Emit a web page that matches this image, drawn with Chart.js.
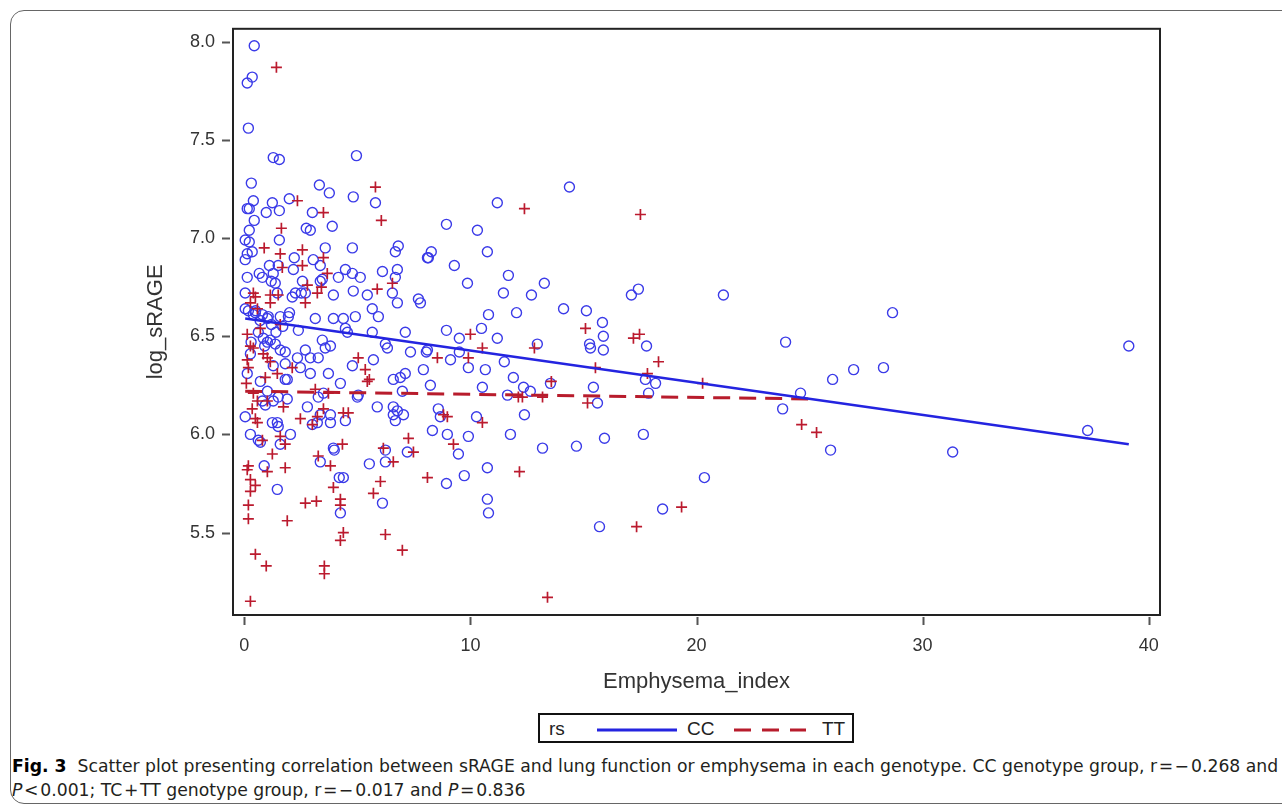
<!DOCTYPE html>
<html>
<head>
<meta charset="utf-8">
<script src="https://cdn.jsdelivr.net/npm/chart.js@4/dist/chart.umd.min.js"></script>
<style>
  html, body { margin: 0; padding: 0; background: #fff; overflow: hidden; }
  #page { position: relative; width: 1282px; height: 808px; overflow: hidden; }
  /* rounded frame of the figure, cut off at the right edge */
  #frame { position: absolute; left: 10px; top: 10px; width: 1300px; height: 794px;
           border: 1px solid #666; border-radius: 14px; box-sizing: border-box; }
  #chartBox { position: absolute; left: 0; top: 0; width: 1282px; height: 700px; }
  #legend { position: absolute; left: 538px; top: 713px; width: 316px; height: 30px;
            border: 2px solid #111; box-sizing: border-box;
            font-family: "Liberation Sans", Arial, sans-serif; font-size: 19px; color: #222; }
  #legend span, #legend svg { position: absolute; }
  #caption { position: absolute; left: 12px; top: 754px; color: #231f20;
             font-family: "DejaVu Sans Condensed", "Liberation Sans Narrow", "Noto Sans", sans-serif;
             font-size: 17px; line-height: 24px; white-space: nowrap; }
  .cap-line { transform-origin: 0 50%; }
  .cap-line b { color: #000; }
</style>
</head>
<body>
<div id="page">
  <div id="frame"></div>
  <div id="chartBox"><canvas id="scatterChart" width="1282" height="700"></canvas></div>

  <div id="legend">
    <span style="left:9px; top:3px;">rs</span>
    <svg style="left:56px; top:12px;" width="82" height="6"><line x1="1" y1="3" x2="81" y2="3" stroke="#2424e0" stroke-width="3"/></svg>
    <span style="left:147px; top:3px;">CC</span>
    <svg style="left:193px; top:12px;" width="74" height="6"><line x1="1" y1="3" x2="73" y2="3" stroke="#b81c2c" stroke-width="3" stroke-dasharray="17,11"/></svg>
    <span style="left:282px; top:3px;">TT</span>
  </div>

  <div id="caption">
    <div class="cap-line" id="cap1"><b>Fig. 3</b>&nbsp; Scatter plot presenting correlation between sRAGE and lung function or emphysema in each genotype. CC genotype group, r&#8202;=&#8202;&minus;&#8202;0.268 and</div>
    <div class="cap-line" id="cap2"><i>P</i>&#8202;&lt;&#8202;0.001; TC&#8202;+&#8202;TT genotype group, r&#8202;=&#8202;&minus;&#8202;0.017 and <i>P</i>&#8202;=&#8202;0.836</div>
  </div>
</div>

<script>
// 軸的刻度
const xTicks = [0, 10, 20, 30, 40];
const yTicks = [5.5, 6.0, 6.5, 7.0, 7.5, 8.0];

// CC 組: [Emphysema_index, log_sRAGE]
const ccPairs = [
  [0.44,7.98],[0.35,7.82],[0.13,7.79],[0.18,7.56],[1.28,7.41],[1.55,7.40],[4.96,7.42],[0.31,7.28],
  [3.32,7.27],[3.76,7.23],[4.82,7.21],[5.80,7.18],[1.99,7.20],[0.40,7.19],[0.13,7.15],[0.22,7.15],
  [1.24,7.18],[0.97,7.13],[1.55,7.14],[3.01,7.13],[0.44,7.09],[2.74,7.05],[2.92,7.04],[3.89,7.06],
  [0.22,7.04],[1.55,6.99],[0.04,6.99],[0.22,6.98],[3.58,6.95],[4.78,6.95],[6.68,6.93],[6.81,6.96],
  [8.10,6.90],[0.35,6.93],[0.13,6.92],[0.04,6.89],[2.21,6.90],[3.05,6.89],[3.36,6.86],[1.11,6.86],
  [1.50,6.86],[0.66,6.82],[1.28,6.82],[0.13,6.80],[0.80,6.80],[1.19,6.78],[2.17,6.84],[2.57,6.78],
  [3.36,6.78],[4.16,6.80],[4.47,6.84],[4.78,6.82],[5.13,6.80],[6.11,6.83],[6.77,6.84],[6.68,6.80],
  [0.04,6.72],[1.46,6.72],[2.26,6.72],[2.52,6.72],[3.45,6.79],[3.94,6.71],[4.82,6.73],[5.44,6.71],
  [6.55,6.72],[7.70,6.69],[14.38,7.26],[11.19,7.18],[8.94,7.07],[10.31,7.04],[8.27,6.93],[8.14,6.90],
  [10.75,6.93],[9.29,6.86],[11.68,6.81],[9.87,6.77],[13.27,6.77],[11.46,6.72],[12.70,6.71],[7.79,6.67],
  [10.80,6.61],[12.04,6.62],[14.12,6.64],[15.13,6.63],[15.84,6.57],[17.12,6.71],[17.43,6.74],[8.94,6.53],
  [9.51,6.49],[10.49,6.54],[11.19,6.49],[15.88,6.50],[12.96,6.46],[15.27,6.46],[15.31,6.44],[15.88,6.43],
  [17.79,6.45],[8.05,6.42],[9.12,6.38],[9.51,6.42],[9.91,6.34],[10.66,6.33],[11.50,6.37],[7.92,6.33],
  [8.23,6.25],[10.53,6.24],[11.90,6.29],[12.35,6.24],[12.65,6.22],[13.54,6.26],[15.44,6.24],[15.62,6.16],
  [17.74,6.28],[18.19,6.26],[17.88,6.21],[8.58,6.13],[8.67,6.09],[10.27,6.09],[12.39,6.10],[8.32,6.02],
  [8.98,6.00],[9.91,5.99],[11.77,6.00],[15.93,5.98],[17.65,6.00],[13.19,5.93],[14.69,5.94],[9.47,5.90],
  [10.75,5.83],[9.73,5.79],[8.94,5.75],[10.75,5.67],[10.80,5.60],[15.71,5.53],[18.50,5.62],[21.19,6.71],
  [28.67,6.62],[23.94,6.47],[24.60,6.21],[23.81,6.13],[26.02,6.28],[26.95,6.33],[28.27,6.34],[25.93,5.92],
  [20.35,5.78],[39.12,6.45],[37.30,6.02],[31.33,5.91],[11.64,6.20],[0.04,6.64],[0.40,6.61],[0.80,6.61],
  [1.06,6.60],[1.59,6.60],[1.95,6.60],[3.14,6.59],[3.94,6.59],[4.38,6.59],[4.91,6.60],[5.66,6.64],
  [5.93,6.60],[4.47,6.54],[4.56,6.52],[2.39,6.53],[3.45,6.48],[3.81,6.45],[3.58,6.44],[5.66,6.52],
  [7.12,6.52],[6.24,6.46],[6.33,6.44],[7.35,6.42],[8.10,6.43],[0.84,6.49],[1.15,6.48],[1.37,6.46],
  [1.59,6.43],[1.81,6.42],[2.70,6.43],[2.35,6.39],[2.92,6.39],[3.27,6.39],[2.48,6.34],[2.92,6.31],
  [3.72,6.31],[4.78,6.35],[5.71,6.38],[1.90,6.28],[0.71,6.27],[0.13,6.31],[1.28,6.35],[4.25,6.26],
  [5.00,6.19],[6.59,6.28],[6.90,6.29],[7.12,6.31],[6.99,6.22],[5.88,6.14],[6.59,6.14],[6.77,6.12],
  [6.59,6.10],[7.04,6.10],[6.68,6.07],[3.27,6.19],[2.79,6.14],[3.81,6.10],[3.36,6.10],[3.23,6.06],
  [3.81,6.06],[3.01,6.05],[4.47,6.07],[2.04,6.00],[1.50,6.04],[1.24,6.06],[0.93,6.15],[1.50,6.19],
  [1.90,6.18],[1.28,6.17],[0.80,6.17],[0.04,6.09],[0.27,6.00],[0.62,5.97],[1.59,5.95],[3.94,5.93],
  [6.24,5.92],[7.21,5.91],[1.02,6.22],[3.50,6.21],[5.04,6.20],[3.98,5.92],[3.36,5.86],[4.20,5.78],
  [4.38,5.78],[5.53,5.85],[6.24,5.86],[1.46,5.72],[0.88,5.84],[4.25,5.60],[6.11,5.65],[1.37,6.77],
  [0.18,6.63],[0.49,6.62],[1.02,6.59],[2.12,6.70],[2.70,6.72],[0.62,6.52],[1.02,6.47],[0.27,6.41],
  [1.81,6.36],[1.81,6.28],[0.71,5.96],[1.46,6.06],[6.77,6.67],[0.50,6.63],[0.70,6.58],[1.20,6.56],
  [0.90,6.45],[1.40,6.52],[0.30,6.47],[1.70,6.55],[2.00,6.62]
];

// TC+TT 組: [Emphysema_index, log_sRAGE]
const ttPairs = [
  [1.42,7.87],[2.35,7.19],[3.50,7.13],[5.80,7.26],[6.06,7.09],[1.64,7.05],[0.88,6.95],[1.59,6.92],
  [2.57,6.94],[3.50,6.90],[2.57,6.86],[1.68,6.85],[3.67,6.82],[2.79,6.76],[3.41,6.75],[3.23,6.72],
  [5.88,6.74],[6.55,6.77],[0.40,6.72],[1.15,6.71],[1.50,6.71],[0.49,6.70],[0.27,6.67],[0.58,6.64],
  [1.15,6.67],[2.70,6.67],[0.71,6.54],[1.59,6.56],[0.13,6.51],[0.27,6.45],[0.40,6.44],[0.84,6.41],
  [1.02,6.39],[0.13,6.38],[0.18,6.34],[1.15,6.37],[1.46,6.31],[2.12,6.34],[0.93,6.29],[0.09,6.26],
  [5.04,6.39],[5.35,6.33],[5.44,6.27],[5.53,6.28],[3.14,6.23],[3.72,6.21],[0.40,6.21],[0.58,6.17],
  [1.02,6.17],[0.35,6.13],[0.49,6.08],[0.58,6.06],[0.80,5.97],[1.73,6.14],[1.59,5.99],[1.81,5.95],
  [2.48,6.08],[3.01,6.05],[3.23,6.09],[3.50,6.13],[4.38,6.11],[4.60,6.11],[4.34,5.95],[6.15,5.93],
  [7.26,5.98],[7.48,5.91],[1.24,5.90],[3.27,5.89],[0.18,5.84],[0.13,5.82],[1.02,5.81],[1.81,5.83],
  [3.81,5.84],[0.27,5.77],[0.49,5.74],[0.27,5.71],[3.94,5.73],[2.70,5.65],[3.19,5.66],[4.25,5.67],
  [4.25,5.64],[0.18,5.64],[0.18,5.57],[1.90,5.56],[4.38,5.50],[4.25,5.46],[6.24,5.49],[6.99,5.41],
  [6.02,5.76],[5.71,5.70],[8.10,5.78],[0.49,5.39],[0.97,5.33],[3.54,5.33],[3.54,5.29],[0.27,5.15],
  [6.59,5.86],[13.41,5.17],[12.39,7.15],[17.52,7.12],[10.00,6.51],[8.54,6.39],[9.91,6.39],[10.53,6.44],
  [12.83,6.44],[15.09,6.54],[15.53,6.34],[17.21,6.49],[17.48,6.51],[18.32,6.37],[17.83,6.31],[13.58,6.27],
  [12.12,6.19],[12.30,6.19],[13.19,6.19],[15.18,6.16],[8.81,6.10],[8.98,6.09],[10.53,6.06],[9.25,5.95],
  [12.17,5.81],[17.35,5.53],[20.27,6.26],[24.65,6.05],[25.31,6.01],[19.34,5.63]
];

// 回歸線兩端
const ccFitX = [0.04, 39.12];
const ccFitY = [6.59, 5.95];
const ttFitX = [0.04, 25.31];
const ttFitY = [6.22, 6.18];

const toPoints = pairs => pairs.map(p => ({ x: p[0], y: p[1] }));
const toLine = (xs, ys) => xs.map((x, i) => ({ x: x, y: ys[i] }));

const axisFont = { family: '"Liberation Sans", Arial, sans-serif', size: 18 };
const titleFont = { family: '"Liberation Sans", Arial, sans-serif', size: 22 };

// 畫外框和外側刻度線
const framePlugin = {
  id: 'frameTicks',
  afterDraw(chart) {
    const ctx = chart.ctx;
    const a = chart.chartArea;
    const xs = chart.scales.x, ys = chart.scales.y;
    ctx.save();
    ctx.strokeStyle = '#222';
    ctx.lineWidth = 2;
    ctx.strokeRect(a.left, a.top, a.right - a.left, a.bottom - a.top);
    ctx.strokeStyle = '#555';
    ctx.beginPath();
    yTicks.forEach(v => {
      const y = Math.round(ys.getPixelForValue(v)) + 0.5;
      ctx.moveTo(a.left - 11, y);
      ctx.lineTo(a.left - 3, y);
    });
    xTicks.forEach(v => {
      const x = Math.round(xs.getPixelForValue(v)) + 0.5;
      ctx.moveTo(x, a.bottom + 2);
      ctx.lineTo(x, a.bottom + 10);
    });
    ctx.stroke();
    ctx.restore();
  }
};

const ctx = document.getElementById('scatterChart');
new Chart(ctx.getContext('2d'), {
  type: 'scatter',
  data: {
    datasets: [
      {
        type: 'line', label: 'CC', data: toLine(ccFitX, ccFitY), showLine: true,
        borderColor: '#2424e0', borderWidth: 2.5, pointRadius: 0, fill: false
      },
      {
        type: 'line', label: 'TT', data: toLine(ttFitX, ttFitY), showLine: true,
        borderColor: '#b81c2c', borderWidth: 3, borderDash: [17, 9], pointRadius: 0, fill: false
      },
      {
        label: 'TT points', data: toPoints(ttPairs), pointStyle: 'cross',
        pointRadius: 5.5, borderWidth: 1.7, borderColor: '#bb1a2e', backgroundColor: '#bb1a2e'
      },
      {
        label: 'CC points', data: toPoints(ccPairs), pointStyle: 'circle',
        pointRadius: 5, borderWidth: 1.4, borderColor: '#3b3be8', backgroundColor: 'rgba(0,0,0,0)'
      }
    ]
  },
  options: {
    responsive: false,
    animation: false,
    layout: { padding: { left: 140, top: 27, right: 122, bottom: 0 } },
    plugins: { legend: { display: false }, tooltip: { enabled: false } },
    scales: {
      x: {
        type: 'linear', min: -0.5, max: 40.5,
        afterBuildTicks: s => { s.ticks = xTicks.map(v => ({ value: v })); },
        afterFit: s => { s.height = 85; },
        grid: { display: false, drawTicks: false },
        border: { display: false },
        ticks: { padding: 20, font: axisFont, color: '#333', maxRotation: 0, autoSkip: false },
        title: { display: true, text: 'Emphysema_index', color: '#333', font: titleFont, padding: { top: 0, bottom: 5 } }
      },
      y: {
        type: 'linear', min: 5.08, max: 8.066,
        afterBuildTicks: s => { s.ticks = yTicks.map(v => ({ value: v })); },
        afterFit: s => { s.width = 93; },
        grid: { display: false, drawTicks: false },
        border: { display: false },
        ticks: { padding: 18, font: axisFont, color: '#333', autoSkip: false, callback: v => v.toFixed(1) },
        title: { display: true, text: 'log_sRAGE', color: '#333', font: titleFont, padding: { top: 3, bottom: 0 } }
      }
    }
  },
  plugins: [framePlugin]
});

// 說明文字壓縮到原圖寬度
const cap1 = document.getElementById('cap1');
const cap2 = document.getElementById('cap2');
const k = 1266 / cap1.scrollWidth;
cap1.style.transform = 'scaleX(' + k + ')';
cap2.style.transform = 'scaleX(' + k + ')';
</script>
</body>
</html>
